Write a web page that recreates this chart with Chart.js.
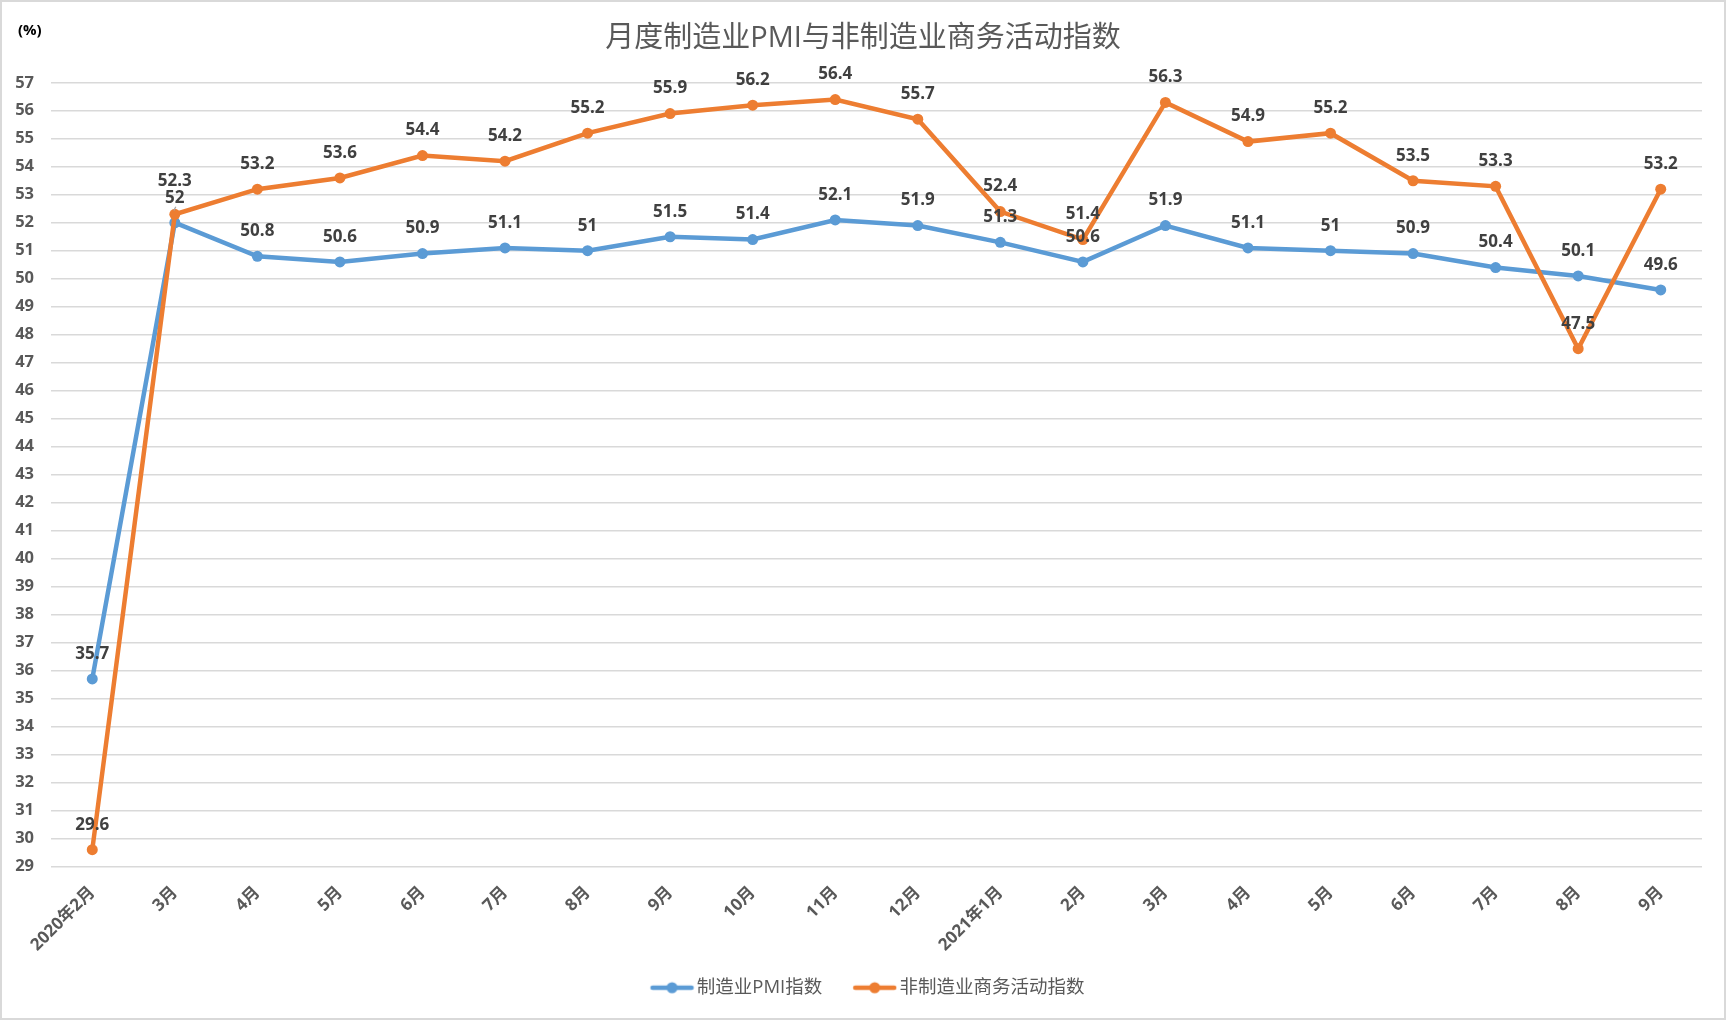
<!DOCTYPE html>
<html>
<head>
<meta charset="utf-8">
<script src="https://cdn.jsdelivr.net/npm/chart.js@4.4.1/dist/chart.umd.min.js"></script>
<style>
  html, body { margin: 0; padding: 0; background: #fff; }
  #wrap { width: 1726px; height: 1020px; position: relative; }
</style>
</head>
<body>
<div id="wrap"><canvas id="myChart" width="1726" height="1020"></canvas></div>
<script>
// categories and values
let months = ['2020年2月', '3月', '4月', '5月', '6月', '7月', '8月', '9月', '10月', '11月', '12月',
              '2021年1月', '2月', '3月', '4月', '5月', '6月', '7月', '8月', '9月'];
let pmi = [35.7, 52, 50.8, 50.6, 50.9, 51.1, 51, 51.5, 51.4, 52.1, 51.9,
           51.3, 50.6, 51.9, 51.1, 51, 50.9, 50.4, 50.1, 49.6];
let nonPmi = [29.6, 52.3, 53.2, 53.6, 54.4, 54.2, 55.2, 55.9, 56.2, 56.4, 55.7,
              52.4, 51.4, 56.3, 54.9, 55.2, 53.5, 53.3, 47.5, 53.2];

const FONT = '"Open Sans", "Noto Sans CJK SC", sans-serif';
const BLUE = '#5B9BD5';
const ORANGE = '#ED7D31';

// legend symbol: short line with a dot, like excel
// (blank strip on the left keeps the items apart without a taller legend)
function legendIcon(color) {
    let c = document.createElement('canvas');
    c.width = 60; c.height = 14;
    let g = c.getContext('2d');
    g.strokeStyle = color;
    g.lineWidth = 4.5;
    g.lineCap = 'round';
    g.beginPath(); g.moveTo(18, 7); g.lineTo(57, 7); g.stroke();
    g.fillStyle = color;
    g.beginPath(); g.arc(37.5, 7, 5.5, 0, Math.PI * 2); g.fill();
    return c;
}
let icons = [legendIcon(BLUE), legendIcon(ORANGE)];

// value labels above each point
const valueLabels = {
    id: 'valueLabels',
    afterDatasetsDraw(chart) {
        let ctx = chart.ctx;
        ctx.save();
        ctx.font = 'bold 17px ' + FONT;
        ctx.fillStyle = '#404040';
        ctx.textAlign = 'center';
        ctx.textBaseline = 'middle';
        let m0 = chart.getDatasetMeta(0), m1 = chart.getDatasetMeta(1);
        for (let i = 0; i < months.length; i++) {
            let p0 = m0.data[i], p1 = m1.data[i];
            let y0 = p0.y - 25, y1 = p1.y - 25;
            // keep the two labels apart when points nearly overlap
            if (Math.abs(y0 - y1) < 17) {
                if (y1 <= y0) { y1 = y0 - 17; } else { y0 = y1 - 17; }
                // little grey leader line, as excel draws it
                ctx.save();
                ctx.strokeStyle = '#a6a6a6';
                ctx.lineWidth = 1.2;
                ctx.beginPath();
                ctx.moveTo(p0.x + 1, y0 + 9);
                ctx.lineTo(p0.x - 1, Math.min(p0.y, p1.y) - 4);
                ctx.stroke();
                ctx.restore();
            }
            ctx.fillText(String(pmi[i]), p0.x, y0);
            ctx.fillText(String(nonPmi[i]), p1.x, y1);
        }
        ctx.restore();
    }
};

// light grey frame and the (%) unit
const frame = {
    id: 'frame',
    afterDraw(chart) {
        let ctx = chart.ctx;
        ctx.save();
        ctx.strokeStyle = '#d9d9d9';
        ctx.lineWidth = 2;
        ctx.strokeRect(1, 1, chart.width - 2, chart.height - 2);
        ctx.font = 'bold 15px ' + FONT;
        ctx.fillStyle = '#000';
        ctx.textBaseline = 'middle';
        ctx.fillText('(%)', 18, 31);
        ctx.restore();
    }
};

let myChart = document.getElementById('myChart').getContext('2d');
var chart = new Chart(myChart, {
    type: 'line',
    data: {
        labels: months,
        datasets: [
            {
                label: '制造业PMI指数',
                data: pmi,
                borderColor: BLUE,
                backgroundColor: BLUE,
                borderWidth: 4.5,
                pointRadius: 5.5,
                pointBackgroundColor: BLUE,
                pointBorderWidth: 0,
                fill: false,
                tension: 0,
                order: 1
            },
            {
                label: '非制造业商务活动指数',
                data: nonPmi,
                borderColor: ORANGE,
                backgroundColor: ORANGE,
                borderWidth: 4.5,
                pointRadius: 5.5,
                pointBackgroundColor: ORANGE,
                pointBorderWidth: 0,
                fill: false,
                tension: 0,
                order: 0
            }
        ]
    },
    options: {
        responsive: false,
        animation: false,
        layout: { padding: { left: 0, right: 0, top: 0, bottom: 13 } },
        plugins: {
            title: {
                display: true,
                text: '月度制造业PMI与非制造业商务活动指数',
                color: '#595959',
                font: { family: FONT, size: 29, weight: 'normal' },
                padding: { top: 21, bottom: 27 }
            },
            legend: {
                position: 'bottom',
                labels: {
                    usePointStyle: true,
                    pointStyleWidth: 46,
                    color: '#595959',
                    font: { family: FONT, size: 18.5 },
                    padding: 22,
                    sort: (a, b) => a.datasetIndex - b.datasetIndex,
                    generateLabels(chart) {
                        let items = Chart.defaults.plugins.legend.labels.generateLabels(chart);
                        items.forEach(it => { it.pointStyle = icons[it.datasetIndex]; });
                        return items;
                    }
                }
            },
            tooltip: { enabled: false }
        },
        scales: {
            x: {
                offset: true,
                grid: { display: false },
                border: { display: false },
                ticks: {
                    color: '#595959',
                    font: { family: FONT, size: 17, weight: 'bold' },
                    maxRotation: 45,
                    minRotation: 45,
                    autoSkip: false,
                    padding: 8
                },
                afterFit(scale) { scale.height = 90; }
            },
            y: {
                min: 29,
                max: 57,
                grid: { color: '#d9d9d9', lineWidth: 1.5, drawTicks: false },
                border: { display: false },
                ticks: {
                    stepSize: 1,
                    color: '#595959',
                    font: { family: FONT, size: 16.5, weight: 'bold' },
                    padding: 17
                },
                afterFit(scale) { scale.width = 51; }
            },
            // empty strip on the right so title and legend centre on the whole canvas
            yRight: {
                position: 'right',
                grid: { display: false, drawTicks: false },
                border: { display: false },
                ticks: { display: false },
                afterFit(scale) { scale.width = 24; }
            }
        }
    },
    plugins: [valueLabels, frame]
});
</script>
</body>
</html>
